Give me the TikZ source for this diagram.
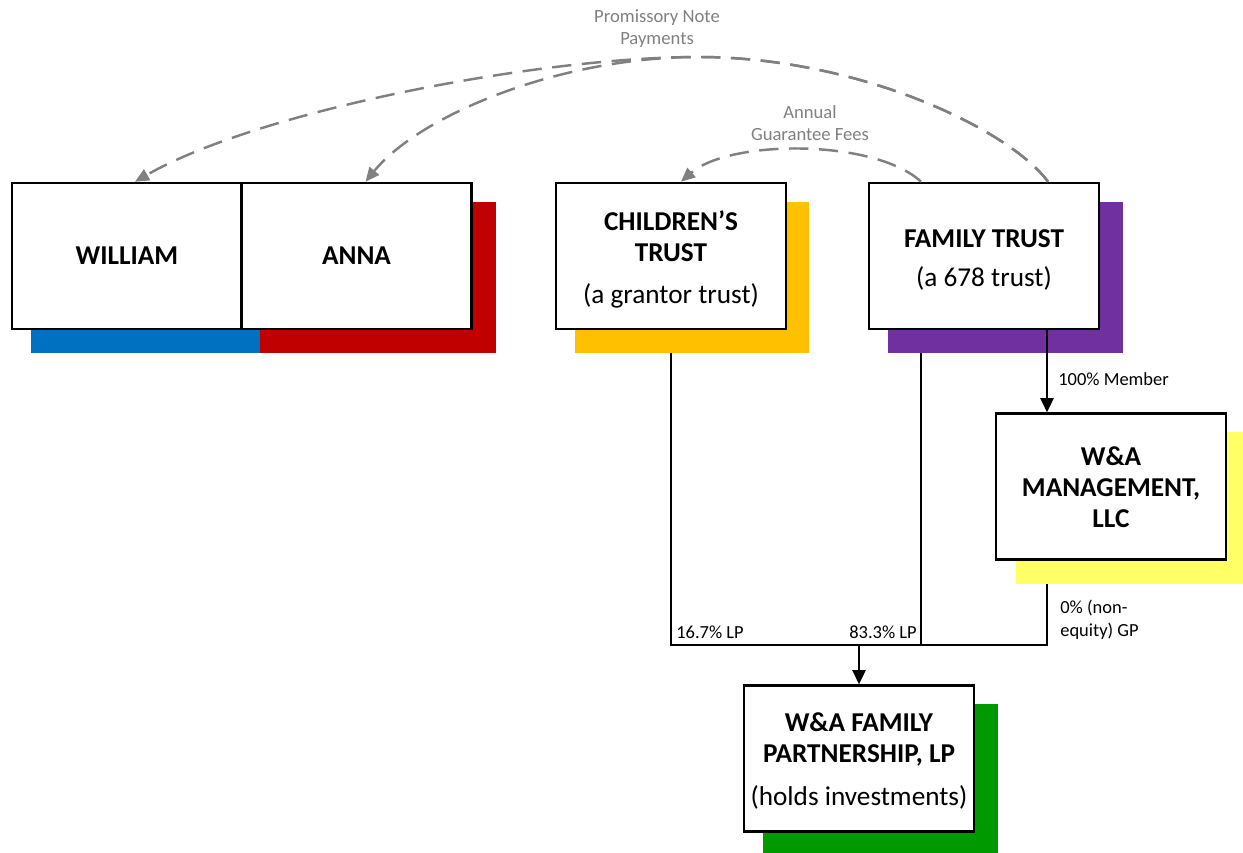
\documentclass[tikz,border=0pt]{standalone}
\usepackage{fontspec}
\setmainfont{Carlito}
\usetikzlibrary{arrows.meta,calc}
\definecolor{wblue}{HTML}{0070C0}
\definecolor{ared}{HTML}{C00000}
\definecolor{cyel}{HTML}{FFC000}
\definecolor{fpurp}{HTML}{7030A0}
\definecolor{mlyel}{HTML}{FFFF66}
\definecolor{pgreen}{HTML}{009900}
\definecolor{dgray}{HTML}{808080}
\pgfdeclarelayer{bg}
\pgfdeclarelayer{shade}
\pgfsetlayers{bg,shade,main}
\begin{document}
\begin{tikzpicture}[x=0.02cm,y=-0.02cm,
  box/.style={draw=black, line width=1.5pt, fill=white, minimum width=4.6cm, minimum height=2.92cm,
    inner sep=0pt, align=center, font=\fontsize{15.5}{17.6}\selectfont},
  boxtext/.style={inner sep=0pt, align=center, font=\fontsize{15.5}{17.6}\selectfont},
  conn/.style={draw=black, line width=1.2pt},
  arr/.style={conn, -{Triangle[length=8pt,width=7.5pt]}},
  flow/.style={draw=dgray, line width=1.4pt, dash pattern=on 11pt off 6pt, -{Triangle[length=8pt,width=7pt]}},
  lbl/.style={font=\fontsize{10.5}{13}\selectfont, inner sep=0pt},
  glbl/.style={font=\fontsize{10.6}{12.5}\selectfont, text=dgray, align=center, inner sep=0pt}]
\useasboundingbox (0,0) rectangle (1243,852);

% boxes
\node[box] (wi) at (127,256) {\textbf{WILLIAM}};
\node[box] (an) at (356.5,256) {\textbf{ANNA}};
\node[box] (ct) at (671,256) {};
\node[boxtext] (ctx) at ($(ct.center)+(0,3.5)$) {\textbf{CHILDREN’S}\\\textbf{TRUST}\\[6pt](a grantor trust)};
\node[box] (ft) at (984,256) {};
\node[boxtext] (ftx) at ($(ft.center)+(0,4)$) {\textbf{FAMILY TRUST}\\[5pt](a 678 trust)};
\node[box] (mg) at (1111,486.5) {};
\node[boxtext] (mgx) at ($(mg.center)+(0,1)$) {\textbf{W\&A}\\\textbf{MANAGEMENT,}\\\textbf{LLC}};
\node[box] (pt) at (859,758.5) {};
\node[boxtext] (ptx) at ($(pt.center)+(0,2.5)$) {\textbf{W\&A FAMILY}\\\textbf{PARTNERSHIP, LP}\\[7pt](holds investments)};

% shadows
\begin{pgfonlayer}{shade}
\fill[wblue] ([shift={(20,20)}]wi.north west) rectangle ([shift={(20,23)}]wi.south east);
\fill[ared] ([shift={(20,20)}]an.north west) rectangle ([shift={(23,23)}]an.south east);
\fill[cyel] ([shift={(20,20)}]ct.north west) rectangle ([shift={(22,23)}]ct.south east);
\fill[fpurp] ([shift={(20,20)}]ft.north west) rectangle ([shift={(23,23)}]ft.south east);
\fill[mlyel] ([shift={(21,20)}]mg.north west) rectangle ([shift={(20,23)}]mg.south east);
\fill[pgreen] ([shift={(20,20)}]pt.north west) rectangle ([shift={(23,23)}]pt.south east);
\end{pgfonlayer}

% ownership lines
\coordinate (busy) at (0,645);
\coordinate (ftl) at ($(ft.south)+(-63,0)$);
\coordinate (ftr) at ($(ft.south)+(63,0)$);
\begin{pgfonlayer}{bg}
\draw[conn] (ct.south) -- (ct.south |- busy) -| (mg.south -| ftr);
\draw[conn] (ftl) -- (ftl |- busy);
\end{pgfonlayer}
\draw[arr] (ftr) -- (ftr |- mg.north);
\draw[arr] (pt.north |- busy) -- (pt.north);

% labels
\node[lbl, anchor=west] (l100) at (1058,379) {100\% Member};
\node[lbl, anchor=base west] (l167) at (676,638) {16.7\% LP};
\node[lbl, anchor=base east] (l833) at (917,638) {83.3\% LP};
\node[lbl, anchor=north west, align=left] (l0) at (1060,600) {0\% (non-\\equity) GP};

% payment flows
\coordinate (ps) at ($(ft.north)+(64,0)$);
\coordinate (as) at ($(ft.north)+(-63,0)$);
\coordinate (wt) at ($(wi.north)+(8,0)$);
\coordinate (at) at ($(an.north)+(9,0)$);
\coordinate (ctt) at ($(ct.north)+(10,0)$);
\draw[flow] (ps) .. controls (1010,130) and (860,57) .. (698,57)
  .. controls (540,57) and (260,110) .. (wt);
\draw[flow] (ps) .. controls (1010,130) and (860,57) .. (698,57)
  .. controls (560,57) and (420,115) .. (at);
\draw[flow] (as) .. controls (875,139) and (730,139) .. (ctt);

\node[glbl] (pn) at (657,29) {Promissory Note\\Payments};
\node[glbl] (ag) at (810,123) {Annual\\Guarantee Fees};
\end{tikzpicture}
\end{document}
